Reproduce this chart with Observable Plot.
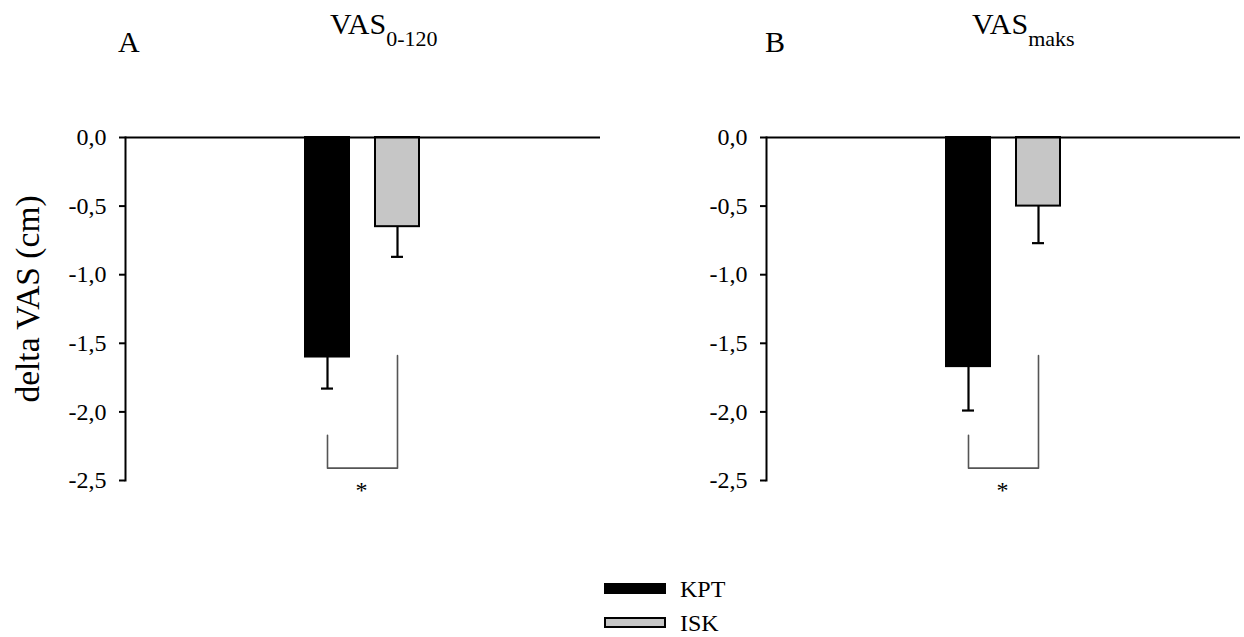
<!DOCTYPE html>
<html>
<head>
<meta charset="utf-8">
<script src="https://cdn.jsdelivr.net/npm/d3@7"></script>
<script src="https://cdn.jsdelivr.net/npm/@observablehq/plot@0.6"></script>
<style>
  html, body { margin: 0; padding: 0; background: #fff; }
  body { font-family: "Liberation Serif", "Times New Roman", serif; color: #000; }
  #wrap { position: relative; width: 1244px; height: 637px; overflow: hidden; }
  #wrap svg, #wrap svg text { font-family: "Liberation Serif", "Times New Roman", serif !important; }
  .abs { position: absolute; line-height: 1; white-space: nowrap; }
  .big { font-size: 30px; }
  .sub { font-size: 22px; position: relative; top: 12px; }
  .swatch { position: absolute; box-sizing: border-box; border: 2px solid #000; width: 62px; height: 11px; }
  .legtxt { position: absolute; font-size: 24px; line-height: 1; }
</style>
</head>
<body>
<div id="wrap"></div>
<script>
// ---- data ----
const groups = ["KPT", "ISK"];
const groupColors = ["#000000", "#c6c6c6"];
const yTicks = [0, -0.5, -1, -1.5, -2, -2.5];

const meanA = [-1.60, -0.65];   // panel A: VAS 0-120
const lowerA = [-1.83, -0.87];  // lower end of error bar
const meanB = [-1.67, -0.50];   // panel B: VAS maks
const lowerB = [-1.99, -0.77];

// significance bracket: left top, bottom, bottom, right top
const bracketGroups = ["KPT", "KPT", "ISK", "ISK"];
const bracketA = [-2.17, -2.41, -2.41, -1.59];
const bracketB = [-2.17, -2.41, -2.41, -1.59];
const starLevel = -2.57;

const panelTitles = ["A", "B"];
const panelMain = ["VAS", "VAS"];
const panelSub = ["0-120", "maks"];
const yLabel = "delta VAS (cm)";

// ---- helpers ----
const FONT = "Liberation Serif";
const fmt = d => d.toFixed(1).replace(".", ",");
const rows = (means, lowers) => groups.map((g, i) => ({group: g, value: means[i], lower: lowers[i], fill: groupColors[i]}));
const brk = (vals) => bracketGroups.map((g, i) => ({group: g, value: vals[i]}));

function panel({means, lowers, bracket, width, marginLeft, marginRight, withLabel}) {
  const data = rows(means, lowers);
  const marks = [
    Plot.barY(data, {x: "group", y: "value", fill: "fill", stroke: "#000", strokeWidth: 2}),
    Plot.ruleX(data, {x: "group", y1: "value", y2: "lower", strokeWidth: 2.2}),
    Plot.tickY(data, {x: "group", y: "lower", strokeWidth: 2.2, insetLeft: 16, insetRight: 16}),
    Plot.line(brk(bracket), {x: "group", y: "value", stroke: "#555", strokeWidth: 1.6}),
    Plot.text(["*"], {x: () => groups[0], y: () => starLevel, dx: 34, fontSize: 24, fontFamily: FONT}),
    Plot.ruleY([0], {strokeWidth: 2}),
    Plot.frame({anchor: "left", strokeWidth: 2}),
    Plot.axisY({ticks: yTicks, tickFormat: fmt, tickSize: 6, tickPadding: 13, fontSize: 24, fontFamily: FONT, strokeWidth: 2, label: null})
  ];
  if (withLabel) marks.push(Plot.text([yLabel], {frameAnchor: "left", textAnchor: "middle", rotate: -90, dx: -97, dy: -10, fontSize: 33.5, fontFamily: FONT}));
  return Plot.plot({
    width, height: 410,
    marginLeft, marginRight, marginTop: 37, marginBottom: 30,
    style: "font-family: 'Liberation Serif', serif; color: #000; background: transparent; overflow: visible;",
    x: {domain: groups, axis: null, paddingInner: 0.366, paddingOuter: 2.53},
    y: {domain: [-2.5, 0]},
    marks
  });
}

const wrap = document.getElementById("wrap");

const pA = panel({means: meanA, lowers: lowerA, bracket: bracketA, width: 610, marginLeft: 125, marginRight: 10, withLabel: true});
pA.style.position = "absolute"; pA.style.left = "0px"; pA.style.top = "100px";
wrap.appendChild(pA);

const pB = panel({means: meanB, lowers: lowerB, bracket: bracketB, width: 600, marginLeft: 122, marginRight: 4, withLabel: false});
pB.style.position = "absolute"; pB.style.left = "644px"; pB.style.top = "100px";
wrap.appendChild(pB);

// titles
const titlePos = [{letter: 118, title: 330}, {letter: 765, title: 972}];
panelTitles.forEach((t, i) => {
  const a = document.createElement("div");
  a.className = "abs big"; a.textContent = t;
  a.style.left = titlePos[i].letter + "px"; a.style.top = "27px";
  wrap.appendChild(a);
  const v = document.createElement("div");
  v.className = "abs big";
  v.style.left = titlePos[i].title + "px"; v.style.top = "9px";
  v.innerHTML = panelMain[i] + '<span class="sub">' + panelSub[i] + '</span>';
  wrap.appendChild(v);
});

// legend
groups.forEach((g, i) => {
  const s = document.createElement("div");
  s.className = "swatch";
  s.style.left = "604px"; s.style.top = (583 + i * 34) + "px";
  s.style.background = groupColors[i];
  wrap.appendChild(s);
  const t = document.createElement("div");
  t.className = "legtxt"; t.textContent = g;
  t.style.left = "680px"; t.style.top = (577 + i * 34) + "px";
  wrap.appendChild(t);
});
</script>
</body>
</html>
